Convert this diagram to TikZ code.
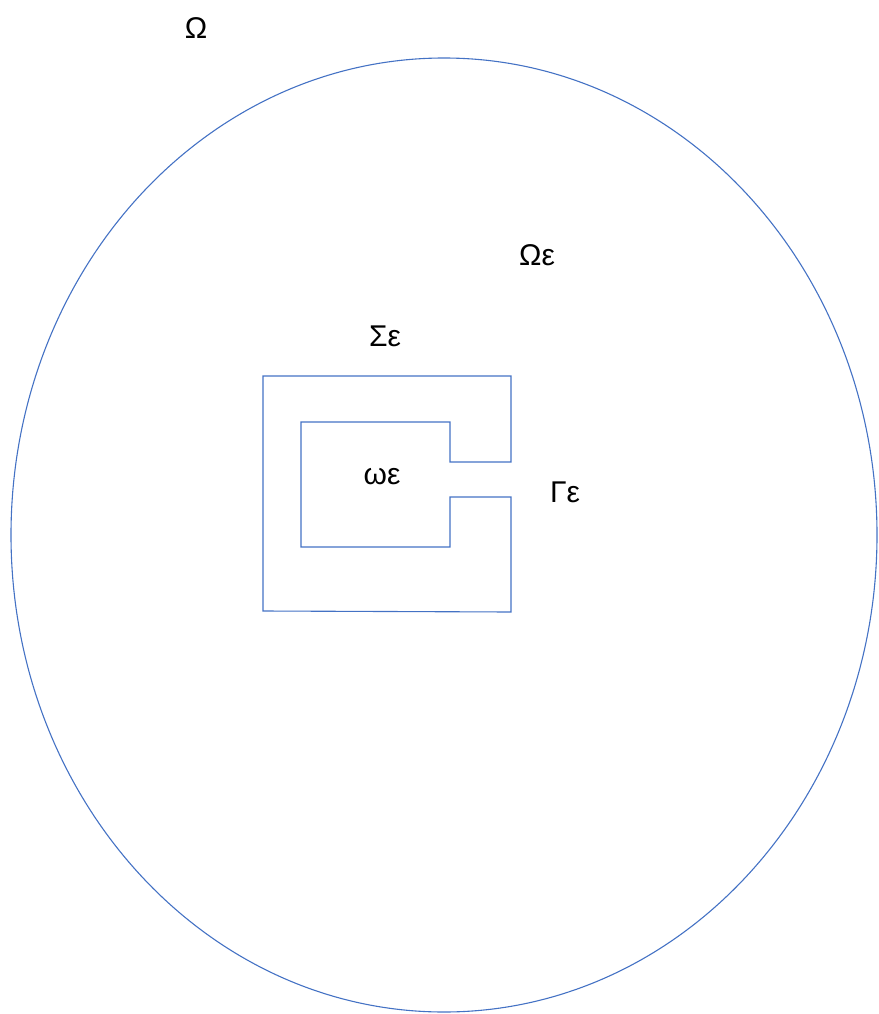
\documentclass[tikz,border=0pt]{standalone}
\usepackage{fontspec}
\setmainfont{Liberation Sans}
\definecolor{lineblue}{HTML}{4472C4}
\begin{document}
\begin{tikzpicture}[x=1pt,y=-1pt,
  outline/.style={draw=lineblue,line width=1.1pt},
  lbl/.style={font=\fontsize{30}{36}\selectfont,inner sep=0pt,anchor=center}]
\useasboundingbox (0,0) rectangle (878,1014);
\draw[outline] (444,535) ellipse [x radius=433, y radius=477];
\draw[outline] (511,462) -- (450,462) -- (450,422) -- (301,422) -- (301,547) -- (450,547) -- (450,497) -- (511,497) -- (511,612) -- (263,611) -- (263,376) -- (511,376) -- cycle;
\node[lbl] (omega) at (196,28) {Ω};
\node[lbl] (omegaeps) at (537,255) {Ωε};
\node[lbl] (sigmaeps) at (385,336) {Σε};
\node[lbl] (smallomega) at (382,477) {ωε};
\node[lbl] (gammaeps) at (565,492) {Γε};
\end{tikzpicture}
\end{document}
